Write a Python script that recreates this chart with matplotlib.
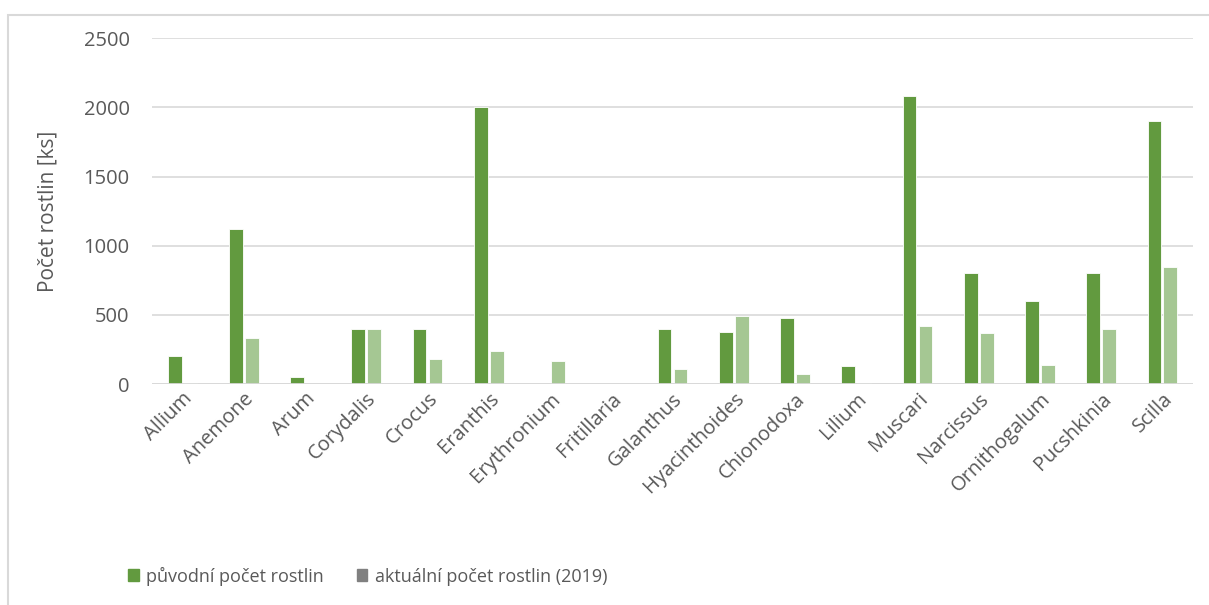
import numpy as np
import matplotlib.pyplot as plt
from matplotlib.patches import Patch, Rectangle

plt.rcParams['font.family'] = ['Open Sans', 'DejaVu Sans']

# Rod / pocty rostlin
rody = ['Allium', 'Anemone', 'Arum', 'Corydalis', 'Crocus', 'Eranthis',
        'Erythronium', 'Fritillaria', 'Galanthus', 'Hyacinthoides',
        'Chionodoxa', 'Lilium', 'Muscari', 'Narcissus', 'Ornithogalum',
        'Pucshkinia', 'Scilla']
puvodni = [200, 1120, 55, 400, 400, 2000, 0, 0, 400, 380, 480, 130, 2080,
           800, 600, 800, 1900]
aktualni = [5, 330, 0, 400, 180, 240, 165, 3, 110, 490, 70, 10, 420,
            370, 135, 400, 850]

c_dark = '#629A3F'
c_light = '#A5C793'
c_text = '#595959'
c_grid = '#D9D9D9'

fig = plt.figure(figsize=(12.09, 6.05), dpi=100)
ax = fig.add_axes([0.1257, 0.365, 0.8611, 0.572])

# ramecek kolem celeho grafu
fig.patches.append(Rectangle((8/1209, -0.1), 1.2, 1 - 15/605 + 0.1,
                             transform=fig.transFigure, fill=False,
                             edgecolor=c_grid, lw=1.5))

x = np.arange(len(rody))
w = 0.225
ax.bar(x - 0.13, puvodni, w, color=c_dark, edgecolor='white', lw=0.6, zorder=3)
ax.bar(x + 0.13, aktualni, w, color=c_light, edgecolor='white', lw=0.6, zorder=3)

ax.set_xlim(-0.5, len(rody) - 0.5)
ax.set_ylim(0, 2500)
ax.set_yticks([0, 500, 1000, 1500, 2000, 2500])
ax.yaxis.grid(True, color=c_grid, lw=1.2, zorder=0)
ax.axhline(0, color=c_grid, lw=2, zorder=4)

for s in ax.spines.values():
    s.set_visible(False)
ax.tick_params(length=0, colors=c_text, labelsize=14.5)
ax.tick_params(axis='y', pad=16)
ax.set_xticks(x)
ax.set_xticklabels(rody, rotation=45, ha='right', rotation_mode='anchor')
ax.set_ylabel('Počet rostlin [ks]', color=c_text, fontsize=15, labelpad=18)

handles = [Patch(color=c_dark, label='původní počet rostlin'),
           Patch(color='#808080', label='aktuální počet rostlin (2019)')]
fig.legend(handles=handles, loc='center left',
           bbox_to_anchor=(112/1209, 1 - 576/605), ncol=2, frameon=False,
           handlelength=0.6, handleheight=0.6, handletextpad=0.4,
           columnspacing=1.8, fontsize=13, labelcolor=c_text)

fig.savefig('out.png', dpi=100)
